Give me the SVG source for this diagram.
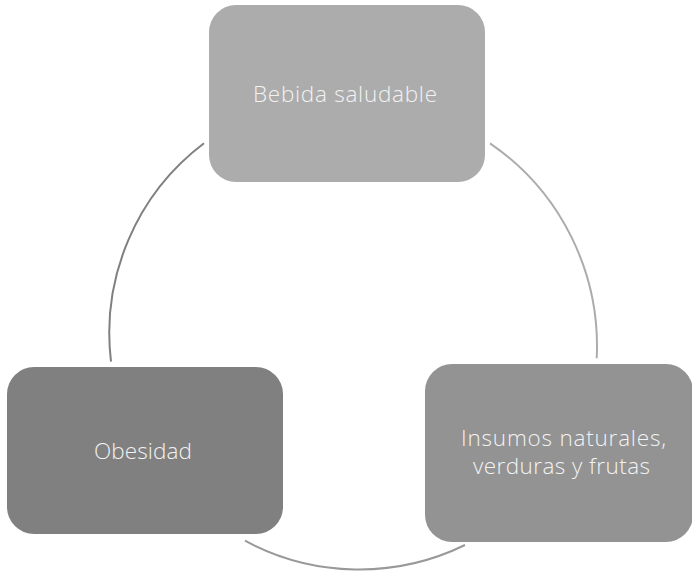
<svg xmlns="http://www.w3.org/2000/svg" width="692" height="574" viewBox="0 0 692 574">
<style>
.lbl{font-family:"Open Sans",Lato,"Liberation Sans",sans-serif;font-weight:300;font-size:22.5px;fill:#f2f2f2;text-anchor:middle}
.arc{fill:none;stroke-width:2;stroke-linecap:butt}
</style>
<rect width="692" height="574" fill="#ffffff"/>
<g id="connectors">
<path class="arc" stroke="#808080" d="M204,143.3 A238,238 0 0 0 111,361.7"/>
<path class="arc" stroke="#acacac" d="M490,143.3 A246,246 0 0 1 596.7,358.3"/>
<path class="arc" stroke="#999999" d="M465,545 A241,241 0 0 1 245,540.7"/>
</g>
<g id="node-bebida">
<rect x="209" y="5" width="276" height="177" rx="27" fill="#acacac"/>
<text class="lbl" x="345" y="102" textLength="184" lengthAdjust="spacing">Bebida saludable</text>
</g>
<g id="node-obesidad">
<rect x="7" y="367" width="276" height="167" rx="27" fill="#808080"/>
<text class="lbl" x="143" y="459" textLength="98" lengthAdjust="spacing">Obesidad</text>
</g>
<g id="node-insumos">
<rect x="425" y="364" width="268" height="178" rx="27" fill="#939393"/>
<text class="lbl" x="563.5" y="446" textLength="205" lengthAdjust="spacing">Insumos naturales,</text>
<text class="lbl" x="561.5" y="474" textLength="177" lengthAdjust="spacing">verduras y frutas</text>
</g>
</svg>
